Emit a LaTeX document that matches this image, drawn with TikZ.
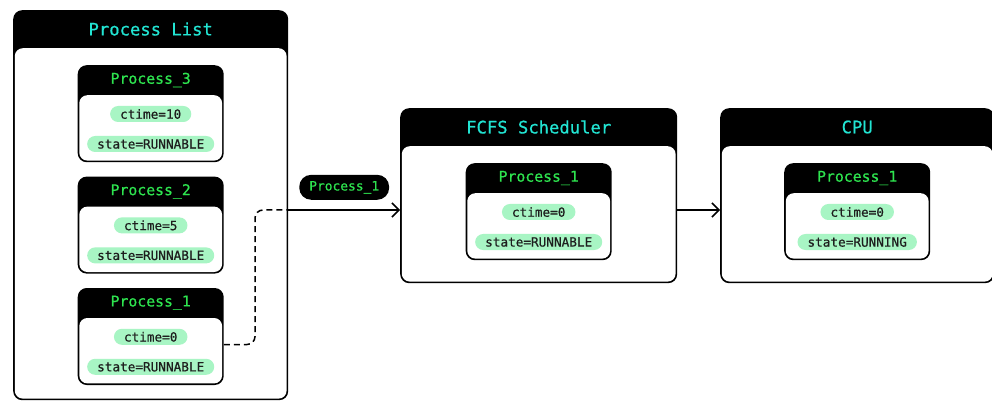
\documentclass[tikz,border=0pt]{standalone}
\usepackage{fontspec}
\setmonofont{DejaVu Sans Mono}[FakeBold=0.6]
\usetikzlibrary{positioning,arrows.meta,calc}

\definecolor{titleCyan}{HTML}{22E5D3}
\definecolor{procGreen}{HTML}{2EE44F}
\definecolor{pillGreen}{HTML}{A8F5C4}
\definecolor{pillText}{HTML}{1E1E1E}

\def\edgeW{1.6pt}
\def\headH{38pt}
\def\cardW{146pt}
\def\cardH{97pt}
\def\cardHeadH{30pt}

\tikzset
{
  Shell/.style=
  {
    fill=black,
    rounded corners=9pt,
    inner sep=0pt,
  },
  Body/.style=
  {
    fill=white,
    rounded corners=8pt,
    inner sep=0pt,
  },
  PanelTitle/.style={text=titleCyan, font=\ttfamily\fontsize{17.2}{19}\selectfont},
  CardTitle/.style={text=procGreen, font=\ttfamily\fontsize{14.8}{16}\selectfont},
  Field/.style=
  {
    fill=pillGreen,
    text=pillText,
    rounded corners=8pt,
    minimum height=16pt,
    inner xsep=10pt,
    inner ysep=0pt,
    font=\ttfamily\fontsize{12.7}{14}\selectfont,
  },
  Tag/.style=
  {
    fill=black,
    text=procGreen,
    rounded corners=12pt,
    minimum height=25pt,
    inner xsep=10pt,
    font=\ttfamily\fontsize{12.9}{14}\selectfont,
  },
  Arrow/.style=
  {
    line width=1.5pt,
    -{Straight Barb[length=7pt,width=14pt]},
  },
  Handoff/.style=
  {
    line width=1.5pt,
    dash pattern=on 6pt off 4pt,
    rounded corners=8pt,
  }
}

% card: name, placement, label, ctime, state
\newcommand\card[5]{%
  \node (#1) [Shell, minimum width=\cardW, minimum height=\cardH, #2] {};
  \node (#1-body) [Body, anchor=south, minimum width=\cardW-2*\edgeW,
    minimum height=\cardH-\cardHeadH-\edgeW] at ([yshift=\edgeW]#1.south) {};
  \node (#1-name) [CardTitle] at ($(#1.north)!.5!(#1-body.north)$) {#3};
  \node (#1-ctime) [Field] at ([yshift=-19pt]#1-body.north) {ctime=#4};
  \node (#1-state) [Field] at ([yshift=-49pt]#1-body.north) {state=#5};
}

\begin{document}
\begin{tikzpicture}[x=1pt, y=1pt]
\useasboundingbox (0,0) rectangle (992,-403);
\clip (0,0) rectangle (992,-403);

% process list
\node (list) [Shell, anchor=north west, minimum width=275pt, minimum height=390pt] at (13,-10) {};
\node (list-body) [Body, anchor=south, minimum width=275pt-2*\edgeW,
  minimum height=390pt-\headH-\edgeW] at ([yshift=\edgeW]list.south) {};
\node (list-title) [PanelTitle] at ($(list.north)!.5!(list-body.north)$) {Process List};
\card{p3}{below=17pt of list-body.north}{Process\_3}{10}{RUNNABLE}
\card{p2}{below=14pt of p3}{Process\_2}{5}{RUNNABLE}
\card{p1}{below=14pt of p2}{Process\_1}{0}{RUNNABLE}

% scheduler
\node (fcfs) [Shell, anchor=north west, minimum width=277pt, minimum height=175pt] at (400,-108) {};
\node (fcfs-body) [Body, anchor=south, minimum width=277pt-2*\edgeW,
  minimum height=175pt-\headH-\edgeW] at ([yshift=\edgeW]fcfs.south) {};
\node (fcfs-title) [PanelTitle] at ($(fcfs.north)!.5!(fcfs-body.north)$) {FCFS Scheduler};
\card{s1}{below=17pt of fcfs-body.north}{Process\_1}{0}{RUNNABLE}

% cpu
\node (cpu) [Shell, anchor=north west, minimum width=274pt, minimum height=175pt] at (720,-108) {};
\node (cpu-body) [Body, anchor=south, minimum width=274pt-2*\edgeW,
  minimum height=175pt-\headH-\edgeW] at ([yshift=\edgeW]cpu.south) {};
\node (cpu-title) [PanelTitle] at ($(cpu.north)!.5!(cpu-body.north)$) {CPU};
\card{c1}{below=17pt of cpu-body.north}{Process\_1}{0}{RUNNING}

% hand-off
\coordinate (bend) at (255,-210);
\coordinate (mid) at ($(list.east |- bend)!.5!(fcfs.west |- bend)$);
\draw [Handoff] ([yshift=-8pt]p1.east) -| (bend) -- (list.east |- bend);
\draw [Arrow] (list.east |- bend) -- (fcfs.west |- bend);
\node (moving) [Tag, above=10pt of mid] {Process\_1};
\draw [Arrow] (fcfs.east |- bend) -- (cpu.west |- bend);
\end{tikzpicture}
\end{document}
